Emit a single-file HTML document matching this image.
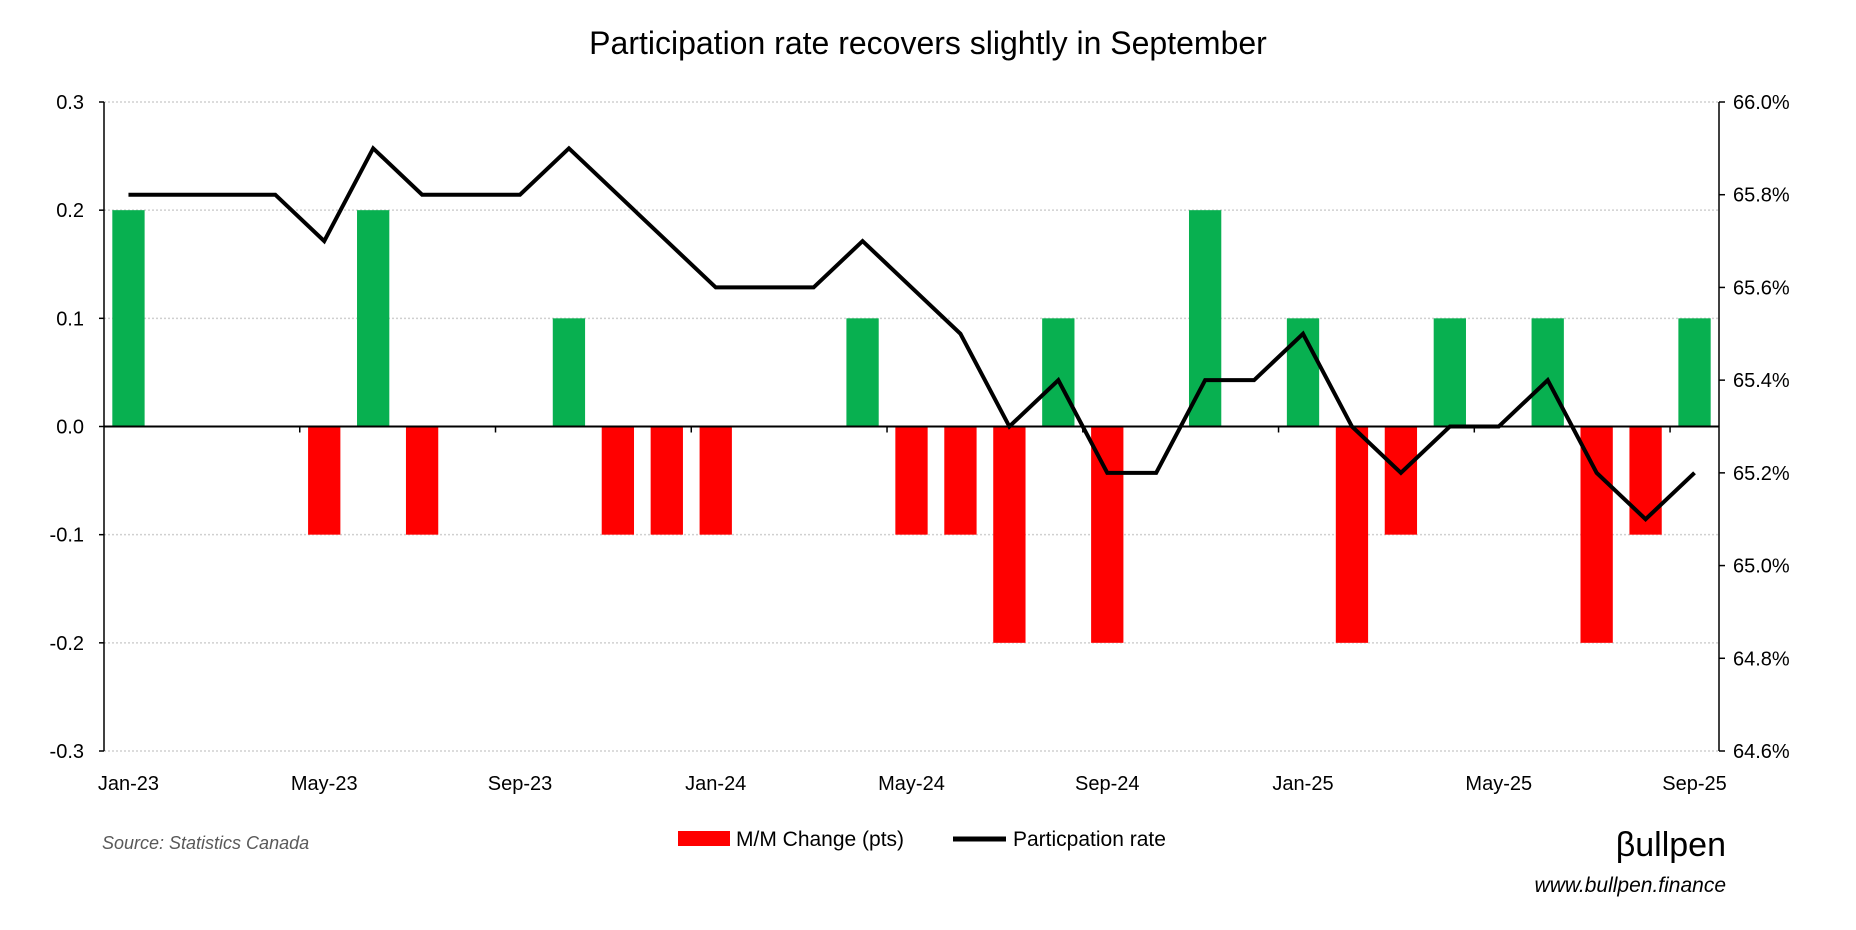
<!DOCTYPE html>
<html><head><meta charset="utf-8"><style>
html,body{margin:0;padding:0;background:#fff;}
svg{display:block;font-family:"Liberation Sans",sans-serif;}
</style></head><body>
<svg id="chart" width="1856" height="930" viewBox="0 0 1856 930">
<text x="928" y="54" text-anchor="middle" font-size="32" fill="#000">Participation rate recovers slightly in September</text>
<g id="grid"></g><g id="bars"></g><g id="line"></g><g id="axes"></g>
<text x="102" y="849" font-size="18" font-style="italic" fill="#595959">Source: Statistics Canada</text>
<g>
<rect x="678" y="831" width="52" height="15" fill="#ff0000"/>
<text x="736" y="846" font-size="21" fill="#000">M/M Change (pts)</text>
<line x1="953" y1="839" x2="1006" y2="839" stroke="#000" stroke-width="5"/>
<text x="1013" y="846" font-size="21" fill="#000">Particpation rate</text>
</g>
<text x="1726" y="856" text-anchor="end" font-size="34" fill="#000">βullpen</text>
<text x="1726" y="892" text-anchor="end" font-size="21" font-style="italic" fill="#000">www.bullpen.finance</text>
</svg>
<script>
const categories=["Jan-23","Feb-23","Mar-23","Apr-23","May-23","Jun-23","Jul-23","Aug-23","Sep-23","Oct-23","Nov-23","Dec-23","Jan-24","Feb-24","Mar-24","Apr-24","May-24","Jun-24","Jul-24","Aug-24","Sep-24","Oct-24","Nov-24","Dec-24","Jan-25","Feb-25","Mar-25","Apr-25","May-25","Jun-25","Jul-25","Aug-25","Sep-25"];
const changeValues=[0.2,0,0,0,-0.1,0.2,-0.1,0,0,0.1,-0.1,-0.1,-0.1,0,0,0.1,-0.1,-0.1,-0.2,0.1,-0.2,0,0.2,0,0.1,-0.2,-0.1,0.1,0,0.1,-0.2,-0.1,0.1];
const rateValues=[65.8,65.8,65.8,65.8,65.7,65.9,65.8,65.8,65.8,65.9,65.8,65.7,65.6,65.6,65.6,65.7,65.6,65.5,65.3,65.4,65.2,65.2,65.4,65.4,65.5,65.3,65.2,65.3,65.3,65.4,65.2,65.1,65.2];
const leftTicks=[0.3,0.2,0.1,0.0,-0.1,-0.2,-0.3];
const leftTickLabels=["0.3","0.2","0.1","0.0","-0.1","-0.2","-0.3"];
const rightTicks=[66.0,65.8,65.6,65.4,65.2,65.0,64.8,64.6];
const rightTickLabels=["66.0%","65.8%","65.6%","65.4%","65.2%","65.0%","64.8%","64.6%"];
const xLabelEvery=4;

const NS="http://www.w3.org/2000/svg";
const L=104,R=1719,T=102,B=751;
const slot=(R-L)/categories.length;
const x=i=>L+slot*(i+0.5);
const yL=v=>T+(0.3-v)/0.6*(B-T);
const yR=v=>T+(66.0-v)/1.4*(B-T);
function mk(tag,attrs,parent){const e=document.createElementNS(NS,tag);for(const k in attrs)e.setAttribute(k,attrs[k]);parent.appendChild(e);return e;}
const grid=document.getElementById('grid'),bars=document.getElementById('bars'),line=document.getElementById('line'),axes=document.getElementById('axes');

leftTicks.forEach((v,i)=>{
  if(v!==0){const g=mk('line',{x1:L,x2:R,y1:yL(v),y2:yL(v),stroke:'#d0d0d0','stroke-width':1.5,'stroke-dasharray':'2,2'},grid);
  
  }
  const t=mk('text',{x:L-20,y:yL(v)+7,'text-anchor':'end','font-size':20,fill:'#000'},axes);
  t.textContent=leftTickLabels[i];
  
  
  const tk=mk('line',{x1:L-5,x2:L,y1:yL(v),y2:yL(v),stroke:'#000','stroke-width':1.5},axes);
  
  
});
rightTicks.forEach((v,i)=>{
  const t=mk('text',{x:R+14,y:yR(v)+7,'font-size':20,fill:'#000'},axes);
  t.textContent=rightTickLabels[i];
  
  
  const tk=mk('line',{x1:R,x2:R+6,y1:yR(v),y2:yR(v),stroke:'#000','stroke-width':1.5},axes);
  
  
});
changeValues.forEach((v,i)=>{
  const bw=slot*0.66;
  const y0=yL(0),y1=yL(v);
  const r=mk('rect',{x:x(i)-bw/2,y:Math.min(y0,y1),width:bw,height:Math.abs(y1-y0),fill:v>=0?'#08b050':'#ff0000'},bars);
  
  
});
const pts=rateValues.map((v,i)=>x(i)+','+yR(v)).join(' ');
const pl=mk('polyline',{points:pts,fill:'none',stroke:'#000','stroke-width':4,'stroke-linejoin':'miter'},line);



const la=mk('line',{x1:L,x2:L,y1:T,y2:B,stroke:'#000','stroke-width':1.5},axes);


const ra=mk('line',{x1:R,x2:R,y1:T,y2:B,stroke:'#000','stroke-width':1.5},axes);


const za=mk('line',{x1:L,x2:R,y1:yL(0),y2:yL(0),stroke:'#000','stroke-width':2},axes);


categories.forEach((c,i)=>{
  if(i%xLabelEvery===0){
    const t=mk('text',{x:x(i),y:790,'text-anchor':'middle','font-size':20,fill:'#000'},axes);
    t.textContent=c;
    
    
    if(i>0){const tk=mk('line',{x1:L+slot*i,x2:L+slot*i,y1:yL(0),y2:yL(0)+6,stroke:'#000','stroke-width':1.5},axes);
    
    }
  }
});
</script>
</body></html>
